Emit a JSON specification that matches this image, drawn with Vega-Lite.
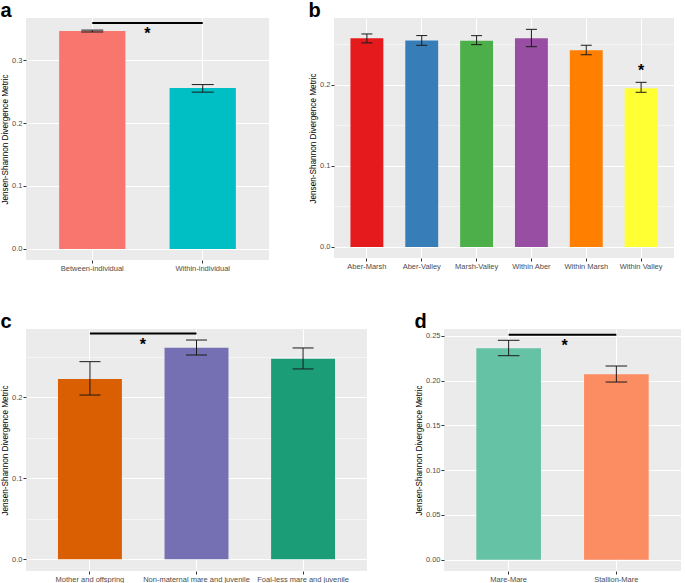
{
  "$schema": "https://vega.github.io/schema/vega-lite/v6.json",
  "padding": {"top": 1, "left": 0, "right": 0, "bottom": 0},
  "background": "white",
  "datasets": {
    "a": [
      {"group": "Between-individual", "value": 0.346, "lo": 0.3445, "hi": 0.3475},
      {"group": "Within-individual", "value": 0.2556, "lo": 0.249, "hi": 0.261}
    ],
    "aSig": [{"from": "Between-individual", "to": "Within-individual", "y": 0.3587, "star": 0.3444, "label": "*"}],
    "b": [
      {"group": "Aber-Marsh", "value": 0.2577, "lo": 0.252, "hi": 0.263},
      {"group": "Aber-Valley", "value": 0.255, "lo": 0.249, "hi": 0.261},
      {"group": "Marsh-Valley", "value": 0.2547, "lo": 0.2498, "hi": 0.2609},
      {"group": "Within Aber", "value": 0.2577, "lo": 0.2473, "hi": 0.2687},
      {"group": "Within Marsh", "value": 0.2428, "lo": 0.2374, "hi": 0.249},
      {"group": "Within Valley", "value": 0.1959, "lo": 0.191, "hi": 0.2033}
    ],
    "bSig": [{"group": "Within Valley", "star": 0.2194, "label": "*"}],
    "c": [
      {"group": "Mother and offspring", "value": 0.2226, "lo": 0.2028, "hi": 0.244},
      {"group": "Non-maternal mare and juvenile", "value": 0.2612, "lo": 0.2522, "hi": 0.2707},
      {"group": "Foal-less mare and juvenile", "value": 0.2477, "lo": 0.235, "hi": 0.2609}
    ],
    "cSig": [{"from": "Mother and offspring", "to": "Non-maternal mare and juvenile", "y": 0.2786, "star": 0.2674, "label": "*"}],
    "d": [
      {"group": "Mare-Mare", "value": 0.236, "lo": 0.2277, "hi": 0.2449},
      {"group": "Stallion-Mare", "value": 0.2069, "lo": 0.1983, "hi": 0.2162}
    ],
    "dSig": [{"from": "Mare-Mare", "to": "Stallion-Mare", "y": 0.2511, "star": 0.2411, "label": "*"}]
  },
  "config": {
    "font": "Liberation Sans",
    "view": {"fill": "#EBEBEB", "stroke": null},
    "axis": {
      "domain": false,
      "gridColor": "white",
      "gridOpacity": 1,
      "labelColor": "#4D4D4D",
      "labelFontSize": 7.5,
      "labelFont": "Liberation Sans",
      "tickColor": "#333333",
      "tickSize": 3,
      "labelPadding": 1,
      "titleFontSize": 8.2,
      "titleFontWeight": "normal",
      "titleColor": "black",
      "titleFont": "Liberation Sans",
      "titlePadding": 2
    },
    "title": {"fontSize": 20, "fontWeight": "bold", "anchor": "start", "color": "black", "baseline": "alphabetic", "offset": -3, "font": "Liberation Sans"}
  },
  "spacing": 40,
  "resolve": {"scale": {"color": "independent"}},
  "vconcat": [
    {
      "spacing": 39,
      "resolve": {"scale": {"color": "independent"}},
      "hconcat": [
        {
          "title": "a",
          "width": 243,
          "height": 242,
          "data": {"name": "a"},
          "encoding": {
            "x": {"field": "group", "type": "nominal", "sort": null, "title": null,
              "scale": {"domain": ["Between-individual", "Within-individual"], "paddingInner": 0.4, "paddingOuter": 0.3},
              "axis": {"labelAngle": 0, "grid": true, "gridWidth": 1, "bandPosition": 0.5}}
          },
          "layer": [
            {"mark": {"type": "bar"},
             "encoding": {
               "y": {"field": "value", "type": "quantitative", "title": "Jensen-Shannon Divergence Metric",
                 "scale": {"domain": [-0.0175, 0.3667], "nice": false, "zero": false},
                 "axis": {"values": [0, 0.05, 0.1, 0.15, 0.2, 0.25, 0.3, 0.35],
                   "labelExpr": "indexof([0.05,0.15,0.25,0.35], datum.value) >= 0 ? '' : format(datum.value, '.1f')",
                   "tickOpacity": {"condition": {"test": "indexof([0.05,0.15,0.25,0.35], datum.value) >= 0", "value": 0}, "value": 1},
                   "gridWidth": {"condition": {"test": "indexof([0.05,0.15,0.25,0.35], datum.value) >= 0", "value": 0.5}, "value": 1}}},
               "color": {"field": "group", "type": "nominal", "sort": null, "scale": {"domain": ["Between-individual", "Within-individual"], "range": ["#F8766D", "#00BFC4"]}, "legend": null}}},
            {"mark": {"type": "rule", "color": "#1a1a1a"}, "encoding": {"y": {"field": "lo", "type": "quantitative"}, "y2": {"field": "hi"}}},
            {"mark": {"type": "tick", "color": "#1a1a1a", "size": 22, "thickness": 1, "opacity": 1}, "encoding": {"y": {"field": "lo", "type": "quantitative"}}},
            {"mark": {"type": "tick", "color": "#1a1a1a", "size": 22, "thickness": 1, "opacity": 1}, "encoding": {"y": {"field": "hi", "type": "quantitative"}}},
            {"data": {"name": "aSig"}, "mark": {"type": "rule", "strokeWidth": 2, "color": "black"},
             "encoding": {"x": {"field": "from", "type": "nominal", "title": null}, "x2": {"field": "to"}, "y": {"field": "y", "type": "quantitative"}}},
            {"data": {"name": "aSig"}, "mark": {"type": "text", "fontSize": 16, "fontWeight": "bold", "dx": 55, "dy": 7, "baseline": "alphabetic", "color": "black"},
             "encoding": {"x": {"field": "from", "type": "nominal", "title": null}, "y": {"field": "star", "type": "quantitative"}, "text": {"field": "label"}}}
          ]
        },
        {
          "title": "b",
          "width": 340,
          "height": 240,
          "data": {"name": "b"},
          "encoding": {
            "x": {"field": "group", "type": "nominal", "sort": null, "title": null,
              "scale": {"domain": ["Aber-Marsh", "Aber-Valley", "Marsh-Valley", "Within Aber", "Within Marsh", "Within Valley"], "paddingInner": 0.4, "paddingOuter": 0.3},
              "axis": {"labelAngle": 0, "grid": true, "gridWidth": 1, "bandPosition": 0.5}}
          },
          "layer": [
            {"mark": {"type": "bar"},
             "encoding": {
               "y": {"field": "value", "type": "quantitative", "title": "Jensen-Shannon Divergence Metric",
                 "scale": {"domain": [-0.0136, 0.2827], "nice": false, "zero": false},
                 "axis": {"values": [0, 0.05, 0.1, 0.15, 0.2, 0.25],
                   "labelExpr": "indexof([0.05,0.15,0.25], datum.value) >= 0 ? '' : format(datum.value, '.1f')",
                   "tickOpacity": {"condition": {"test": "indexof([0.05,0.15,0.25], datum.value) >= 0", "value": 0}, "value": 1},
                   "gridWidth": {"condition": {"test": "indexof([0.05,0.15,0.25], datum.value) >= 0", "value": 0.5}, "value": 1}}},
               "color": {"field": "group", "type": "nominal", "sort": null, "scale": {"domain": ["Aber-Marsh", "Aber-Valley", "Marsh-Valley", "Within Aber", "Within Marsh", "Within Valley"], "range": ["#E41A1C", "#377EB8", "#4DAF4A", "#984EA3", "#FF7F00", "#FFFF33"]}, "legend": null}}},
            {"mark": {"type": "rule", "color": "#1a1a1a"}, "encoding": {"y": {"field": "lo", "type": "quantitative"}, "y2": {"field": "hi"}}},
            {"mark": {"type": "tick", "color": "#1a1a1a", "size": 11, "thickness": 1, "opacity": 1}, "encoding": {"y": {"field": "lo", "type": "quantitative"}}},
            {"mark": {"type": "tick", "color": "#1a1a1a", "size": 11, "thickness": 1, "opacity": 1}, "encoding": {"y": {"field": "hi", "type": "quantitative"}}},
            {"data": {"name": "bSig"}, "mark": {"type": "text", "fontSize": 16, "fontWeight": "bold", "dy": 7, "baseline": "alphabetic", "color": "black"},
             "encoding": {"y": {"field": "star", "type": "quantitative"}, "text": {"field": "label"}}}
          ]
        }
      ]
    },
    {
      "spacing": 47,
      "resolve": {"scale": {"color": "independent"}},
      "hconcat": [
        {
          "title": "c",
          "width": 341,
          "height": 242,
          "data": {"name": "c"},
          "encoding": {
            "x": {"field": "group", "type": "nominal", "sort": null, "title": null,
              "scale": {"domain": ["Mother and offspring", "Non-maternal mare and juvenile", "Foal-less mare and juvenile"], "paddingInner": 0.4, "paddingOuter": 0.3},
              "axis": {"labelAngle": 0, "grid": true, "gridWidth": 1, "bandPosition": 0.5}}
          },
          "layer": [
            {"mark": {"type": "bar"},
             "encoding": {
               "y": {"field": "value", "type": "quantitative", "title": "Jensen-Shannon Divergence Metric",
                 "scale": {"domain": [-0.0144, 0.2843], "nice": false, "zero": false},
                 "axis": {"values": [0, 0.05, 0.1, 0.15, 0.2, 0.25],
                   "labelExpr": "indexof([0.05,0.15,0.25], datum.value) >= 0 ? '' : format(datum.value, '.1f')",
                   "tickOpacity": {"condition": {"test": "indexof([0.05,0.15,0.25], datum.value) >= 0", "value": 0}, "value": 1},
                   "gridWidth": {"condition": {"test": "indexof([0.05,0.15,0.25], datum.value) >= 0", "value": 0.5}, "value": 1}}},
               "color": {"field": "group", "type": "nominal", "sort": null, "scale": {"domain": ["Mother and offspring", "Non-maternal mare and juvenile", "Foal-less mare and juvenile"], "range": ["#D95F02", "#7570B3", "#1B9E77"]}, "legend": null}}},
            {"mark": {"type": "rule", "color": "#1a1a1a"}, "encoding": {"y": {"field": "lo", "type": "quantitative"}, "y2": {"field": "hi"}}},
            {"mark": {"type": "tick", "color": "#1a1a1a", "size": 21, "thickness": 1, "opacity": 1}, "encoding": {"y": {"field": "lo", "type": "quantitative"}}},
            {"mark": {"type": "tick", "color": "#1a1a1a", "size": 21, "thickness": 1, "opacity": 1}, "encoding": {"y": {"field": "hi", "type": "quantitative"}}},
            {"data": {"name": "cSig"}, "mark": {"type": "rule", "strokeWidth": 2, "color": "black"},
             "encoding": {"x": {"field": "from", "type": "nominal", "title": null}, "x2": {"field": "to"}, "y": {"field": "y", "type": "quantitative"}}},
            {"data": {"name": "cSig"}, "mark": {"type": "text", "fontSize": 16, "fontWeight": "bold", "dx": 53, "dy": 7, "baseline": "alphabetic", "color": "black"},
             "encoding": {"x": {"field": "from", "type": "nominal", "title": null}, "y": {"field": "star", "type": "quantitative"}, "text": {"field": "label"}}}
          ]
        },
        {
          "title": "d",
          "width": 237,
          "height": 242,
          "data": {"name": "d"},
          "encoding": {
            "x": {"field": "group", "type": "nominal", "sort": null, "title": null,
              "scale": {"domain": ["Mare-Mare", "Stallion-Mare"], "paddingInner": 0.4, "paddingOuter": 0.3},
              "axis": {"labelAngle": 0, "grid": true, "gridWidth": 1, "bandPosition": 0.5}}
          },
          "layer": [
            {"mark": {"type": "bar"},
             "encoding": {
               "y": {"field": "value", "type": "quantitative", "title": "Jensen-Shannon Divergence Metric",
                 "scale": {"domain": [-0.0126, 0.2575], "nice": false, "zero": false},
                 "axis": {"values": [0, 0.025, 0.05, 0.075, 0.1, 0.125, 0.15, 0.175, 0.2, 0.225, 0.25],
                   "labelExpr": "indexof([0.025,0.075,0.125,0.175,0.225], datum.value) >= 0 ? '' : format(datum.value, '.2f')",
                   "tickOpacity": {"condition": {"test": "indexof([0.025,0.075,0.125,0.175,0.225], datum.value) >= 0", "value": 0}, "value": 1},
                   "gridWidth": {"condition": {"test": "indexof([0.025,0.075,0.125,0.175,0.225], datum.value) >= 0", "value": 0.5}, "value": 1}}},
               "color": {"field": "group", "type": "nominal", "sort": null, "scale": {"domain": ["Mare-Mare", "Stallion-Mare"], "range": ["#66C2A5", "#FC8D62"]}, "legend": null}}},
            {"mark": {"type": "rule", "color": "#1a1a1a"}, "encoding": {"y": {"field": "lo", "type": "quantitative"}, "y2": {"field": "hi"}}},
            {"mark": {"type": "tick", "color": "#1a1a1a", "size": 21.6, "thickness": 1, "opacity": 1}, "encoding": {"y": {"field": "lo", "type": "quantitative"}}},
            {"mark": {"type": "tick", "color": "#1a1a1a", "size": 21.6, "thickness": 1, "opacity": 1}, "encoding": {"y": {"field": "hi", "type": "quantitative"}}},
            {"data": {"name": "dSig"}, "mark": {"type": "rule", "strokeWidth": 2, "color": "black"},
             "encoding": {"x": {"field": "from", "type": "nominal", "title": null}, "x2": {"field": "to"}, "y": {"field": "y", "type": "quantitative"}}},
            {"data": {"name": "dSig"}, "mark": {"type": "text", "fontSize": 16, "fontWeight": "bold", "dx": 56, "dy": 7, "baseline": "alphabetic", "color": "black"},
             "encoding": {"x": {"field": "from", "type": "nominal", "title": null}, "y": {"field": "star", "type": "quantitative"}, "text": {"field": "label"}}}
          ]
        }
      ]
    }
  ]
}
